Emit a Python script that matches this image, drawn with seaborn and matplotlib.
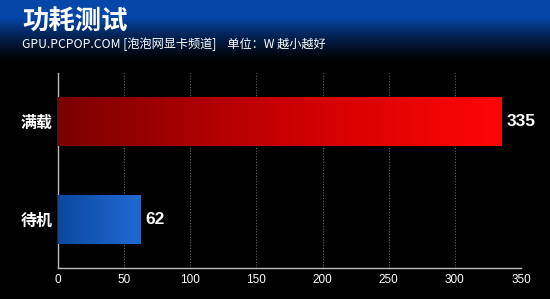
import numpy as np
import pandas as pd
import matplotlib
matplotlib.use("Agg")
import matplotlib.pyplot as plt
import seaborn as sns
from matplotlib.colors import LinearSegmentedColormap

categories = ["满载", "待机"]
values = [335, 62]
xticks = [0, 50, 100, 150, 200, 250, 300, 350]
title = "功耗测试"
subtitle = "GPU.PCPOP.COM [泡泡网显卡频道]    单位：W 越小越好"

sns.set_theme(style="dark")
plt.rcParams['font.family'] = ['Noto Sans CJK SC', 'DejaVu Sans']

fig = plt.figure(figsize=(5.5, 2.99), dpi=100, facecolor="black")

# header gradient
hax = fig.add_axes([0, 0, 1, 1], zorder=-5)
hax.set_axis_off()
grad = np.zeros((299, 2, 3))
top = np.array([5, 70, 168]) / 255.0
for y in range(299):
    if y < 17:
        f = 1.0
    elif y < 62:
        f = (1 - (y - 17) / 45.0) ** 1.3
    else:
        f = 0.0
    grad[y, :, :] = top * f
hax.imshow(grad, aspect="auto", extent=[0, 1, 0, 1], origin="upper")
hax.set_xlim(0, 1); hax.set_ylim(0, 1)

ax = fig.add_axes([58/550, 1-268/299, (521-58)/550, (268-73)/299])
ax.set_facecolor("none")
df = pd.DataFrame({"cat": categories, "val": values})
sns.barplot(data=df, x="val", y="cat", ax=ax, width=0.5, color="red", orient="h")

cmaps = [LinearSegmentedColormap.from_list("r", ["#7a0000", "#c80000", "#ff0606"]),
         LinearSegmentedColormap.from_list("b", ["#0d48a0", "#1f6ad2"])]
for patch, cm in zip(ax.patches, cmaps):
    x0, y0 = patch.get_x(), patch.get_y()
    w, h = patch.get_width(), patch.get_height()
    g = np.linspace(0, 1, 256).reshape(1, -1)
    im = ax.imshow(g, cmap=cm, aspect="auto", extent=[x0, x0 + w, y0 + h, y0], zorder=3)
    im.set_clip_path(patch)
    patch.set_edgecolor("none")

for i, v in enumerate(values):
    ax.text(v + 4, i, str(v), color="white", fontsize=12.5, fontweight="bold",
            va="center", ha="left", family=["Liberation Sans"])

ax.set_xlim(0, 350)
ax.set_ylim(1.5, -0.5)
ax.set_xticks(xticks)
ax.set_xticklabels([str(t) for t in xticks], color="white", fontsize=8.5,
                   family=["Liberation Sans"])
ax.tick_params(axis="y", colors="white", labelsize=11.5, length=0, pad=4)
ax.tick_params(axis="x", colors="#bbbbbb", labelcolor="white", length=2, pad=2)
for lab in ax.get_yticklabels():
    lab.set_color("white")
    lab.set_fontweight("bold")
ax.set_xlabel(""); ax.set_ylabel("")
ax.grid(axis="x", color="#666666", linestyle=(0, (1, 1.5)), linewidth=0.8)
ax.grid(axis="y", visible=False)
ax.set_axisbelow(True)
for s in ["top", "right"]:
    ax.spines[s].set_visible(False)
for s in ["left", "bottom"]:
    ax.spines[s].set_visible(True)
    ax.spines[s].set_color("#bbbbbb")
    ax.spines[s].set_linewidth(1)

fig.text(22/550, 1-22/299, title, color="white", fontsize=19, fontweight="bold",
         va="center", ha="left")
fig.text(22/550, 1-44/299, subtitle, color="white", fontsize=8.75,
         va="center", ha="left")

fig.savefig("out.png", dpi=100, facecolor="black")
